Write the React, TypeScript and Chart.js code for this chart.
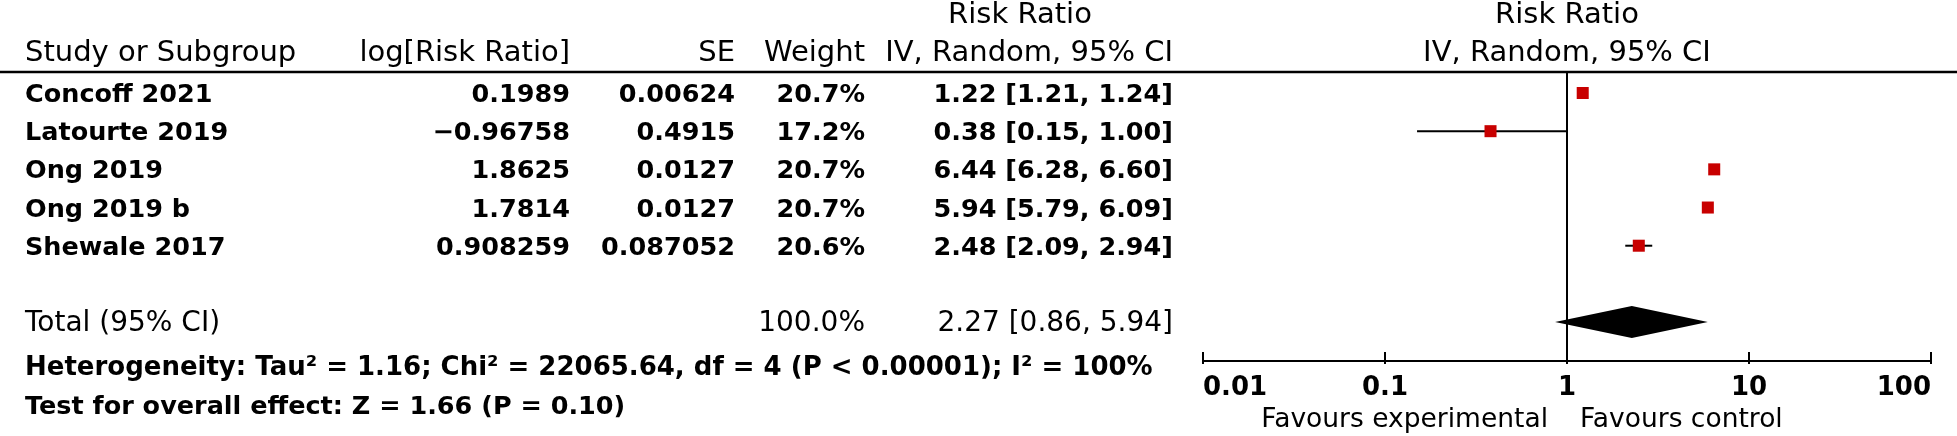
import { useEffect, useRef } from 'react';
import { Chart, registerables } from 'chart.js';

Chart.register(...registerables);

const studies = ['Concoff 2021', 'Latourte 2019', 'Ong 2019', 'Ong 2019 b', 'Shewale 2017'];
const logRR = ['0.1989', '\u22120.96758', '1.8625', '1.7814', '0.908259'];
const seText = ['0.00624', '0.4915', '0.0127', '0.0127', '0.087052'];
const weights = [20.7, 17.2, 20.7, 20.7, 20.6];
const rr = [1.22, 0.38, 6.44, 5.94, 2.48];
const lo = [1.21, 0.15, 6.28, 5.79, 2.09];
const hi = [1.24, 1.0, 6.6, 6.09, 2.94];
const totalRR = 2.27;
const totalLo = 0.86;
const totalHi = 5.94;
const totalWeight = 100.0;
const tickValues = [0.01, 0.1, 1, 10, 100];
const tickLabels = ['0.01', '0.1', '1', '10', '100'];
const heterogeneity = 'Heterogeneity: Tau\u00b2 = 1.16; Chi\u00b2 = 22065.64, df = 4 (P < 0.00001); I\u00b2 = 100%';
const overallTest = 'Test for overall effect: Z = 1.66 (P = 0.10)';
const totalRowIndex = 6;

const FONT = '"DejaVu Sans", sans-serif';
const fmt = (v: number) => v.toFixed(2);

const forestPlugin = {
  id: 'forest',
  beforeDatasetsDraw(chart: any) {
    const { ctx, scales } = chart;
    const x = scales.x;
    const y = scales.y;
    const area = chart.chartArea;
    ctx.save();
    ctx.strokeStyle = '#000';
    ctx.lineWidth = 2;
    const x1 = x.getPixelForValue(1);
    ctx.beginPath();
    ctx.moveTo(x1, area.top);
    ctx.lineTo(x1, area.bottom + 3);
    ctx.stroke();
    const ty = y.getPixelForValue(totalRowIndex);
    ctx.fillStyle = '#000';
    ctx.beginPath();
    ctx.moveTo(x.getPixelForValue(totalLo), ty);
    ctx.lineTo(x.getPixelForValue(totalRR), ty - 16);
    ctx.lineTo(x.getPixelForValue(totalHi), ty);
    ctx.lineTo(x.getPixelForValue(totalRR), ty + 16);
    ctx.closePath();
    ctx.fill();
    ctx.restore();
  },
  afterDraw(chart: any) {
    const { ctx, scales } = chart;
    const x = scales.x;
    const y = scales.y;
    const area = chart.chartArea;
    ctx.save();
    ctx.fillStyle = '#000';
    ctx.strokeStyle = '#000';
    ctx.textBaseline = 'alphabetic';

    ctx.lineWidth = 2.5;
    ctx.beginPath();
    ctx.moveTo(0, 72);
    ctx.lineTo(chart.width, 72);
    ctx.stroke();

    const text = (s: string, px: number, py: number, align: CanvasTextAlign, font: string) => {
      ctx.font = font;
      ctx.textAlign = align;
      ctx.fillText(s, px, py);
    };
    const hFont = `29px ${FONT}`;
    const rFont = `bold 25.5px ${FONT}`;
    const sFont = `bold 26px ${FONT}`;
    const tFont = `28px ${FONT}`;
    const plotCenter = x.getPixelForValue(1);

    text('Risk Ratio', 1020, 23, 'center', hFont);
    text('Risk Ratio', plotCenter, 23, 'center', hFont);
    text('Study or Subgroup', 25, 61, 'left', hFont);
    text('log[Risk Ratio]', 570, 61, 'right', hFont);
    text('SE', 735, 61, 'right', hFont);
    text('Weight', 865, 61, 'right', hFont);
    text('IV, Random, 95% CI', 1173, 61, 'right', hFont);
    text('IV, Random, 95% CI', plotCenter, 61, 'center', hFont);

    studies.forEach((s, i) => {
      const by = y.getPixelForValue(i) + 9;
      text(s, 25, by, 'left', rFont);
      text(logRR[i], 570, by, 'right', rFont);
      text(seText[i], 735, by, 'right', rFont);
      text(weights[i].toFixed(1) + '%', 865, by, 'right', rFont);
      text(`${fmt(rr[i])} [${fmt(lo[i])}, ${fmt(hi[i])}]`, 1173, by, 'right', rFont);
    });

    const tb = y.getPixelForValue(totalRowIndex) + 9;
    text('Total (95% CI)', 25, tb, 'left', tFont);
    text(totalWeight.toFixed(1) + '%', 865, tb, 'right', tFont);
    text(`${fmt(totalRR)} [${fmt(totalLo)}, ${fmt(totalHi)}]`, 1173, tb, 'right', tFont);

    text(heterogeneity, 25, 375, 'left', sFont);
    text(overallTest, 25, 414, 'left', `bold 25.5px ${FONT}`);

    const ay = area.bottom;
    ctx.lineWidth = 2;
    ctx.beginPath();
    ctx.moveTo(x.getPixelForValue(tickValues[0]), ay);
    ctx.lineTo(x.getPixelForValue(tickValues[tickValues.length - 1]), ay);
    ctx.stroke();
    tickValues.forEach((v, i) => {
      const px = x.getPixelForValue(v);
      ctx.beginPath();
      ctx.moveTo(px, ay - 9);
      ctx.lineTo(px, ay + 3);
      ctx.stroke();
      const align: CanvasTextAlign = i === 0 ? 'left' : i === tickValues.length - 1 ? 'right' : 'center';
      text(tickLabels[i], px, 395, align, `bold 26px ${FONT}`);
    });
    text('Favours experimental', plotCenter - 19, 427, 'right', `26.5px ${FONT}`);
    text('Favours control', plotCenter + 13, 427, 'left', `26.5px ${FONT}`);
    ctx.restore();
  },
};

export default function App() {
  const ref = useRef<HTMLCanvasElement>(null);
  useEffect(() => {
    const canvas = ref.current;
    if (!canvas) return;
    const ciSets = studies.map((s, i) => ({
      type: 'line' as const,
      label: s + ' CI',
      data: [
        { x: lo[i], y: i },
        { x: hi[i], y: i },
      ],
      borderColor: '#000',
      borderWidth: 2,
      pointRadius: 0,
      pointHoverRadius: 0,
      fill: false,
      order: 2,
    }));
    const chart = new Chart(canvas, {
      type: 'scatter',
      data: {
        datasets: [
          {
            label: 'Risk Ratio',
            data: rr.map((v, i) => ({ x: v, y: i })),
            pointStyle: 'rect',
            pointRadius: 8.5,
            pointHoverRadius: 8.5,
            backgroundColor: '#c80000',
            borderWidth: 0,
            order: 0,
          },
          ...ciSets,
        ] as any,
      },
      options: {
        animation: false,
        responsive: false,
        maintainAspectRatio: false,
        events: [],
        layout: { padding: { left: 1203, right: 26, top: 73, bottom: 75 } },
        scales: {
          x: { type: 'logarithmic', min: 0.01, max: 100, display: false },
          y: { type: 'linear', min: -0.524, max: 7.02, reverse: true, display: false },
        },
        plugins: { legend: { display: false }, tooltip: { enabled: false } },
      },
      plugins: [forestPlugin],
    });
    return () => chart.destroy();
  }, []);
  return (
    <div style={{ position: 'absolute', left: 0, top: 0, width: 1957, height: 436, background: '#fff' }}>
      <canvas ref={ref} width={1957} height={436} style={{ display: 'block' }} />
    </div>
  );
}
